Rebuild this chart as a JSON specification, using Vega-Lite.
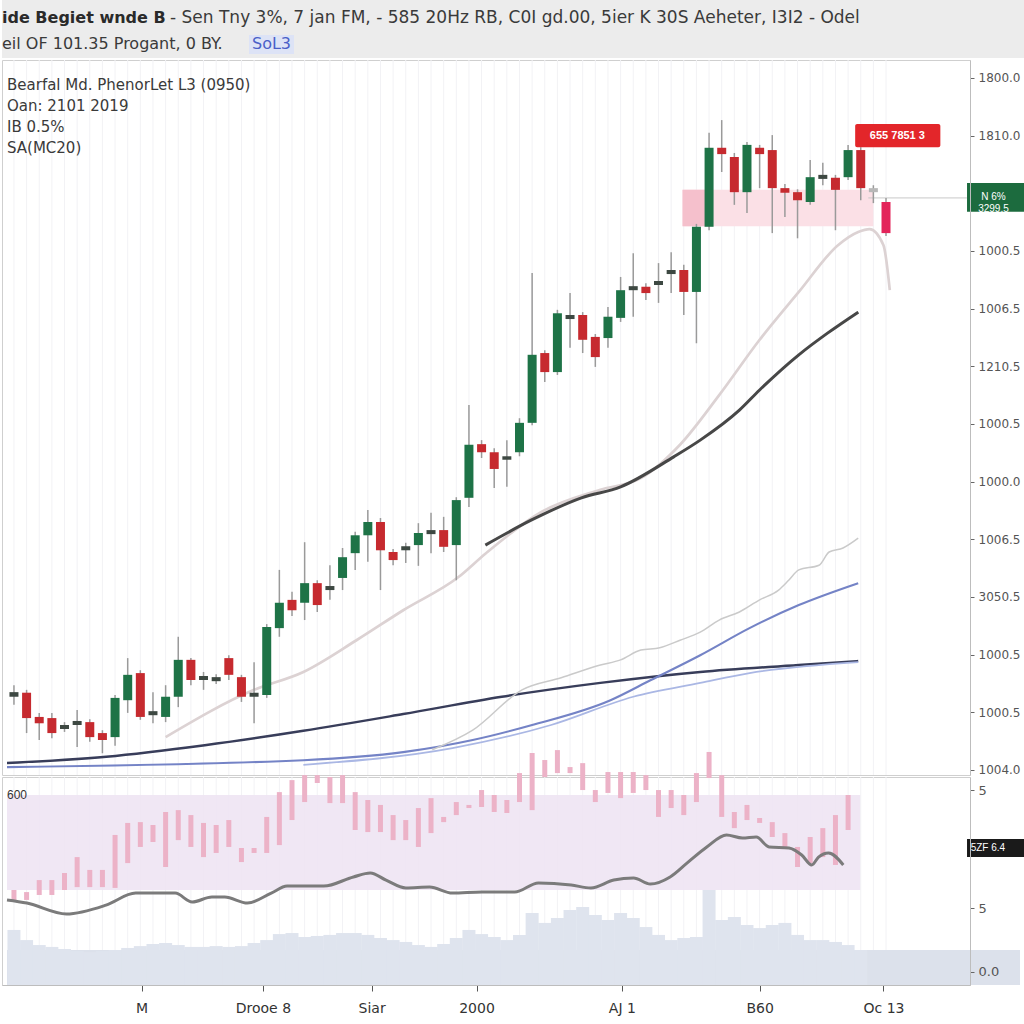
{
"$schema": "https://vega.github.io/schema/vega-lite/v6.json",
"padding": 0,
"spacing": 2,
"bounds": "flush",
"background": "white",
"config": {"font": "Liberation Sans", "view": {"stroke": null}},
"datasets": {
"bars": [
{"i":0,"o":1013.5,"h":1014.7,"l":1011.3,"c":1012.7,"k":"doji","vol":26.6,"oh":45.9,"ol":41.1},
{"i":1,"o":1013.4,"h":1013.9,"l":1006.4,"c":1009.0,"k":"down","vol":21.7,"oh":44.9,"ol":41.1},
{"i":2,"o":1009.2,"h":1009.9,"l":1005.2,"c":1008.1,"k":"down","vol":19.3,"oh":50.7,"ol":43.5},
{"i":3,"o":1009.0,"h":1009.9,"l":1005.5,"c":1006.4,"k":"down","vol":18.4,"oh":50.7,"ol":43.5},
{"i":4,"o":1007.8,"h":1008.3,"l":1006.6,"c":1007.1,"k":"doji","vol":17.4,"oh":54.1,"ol":45.9},
{"i":5,"o":1008.5,"h":1010.4,"l":1004.0,"c":1007.8,"k":"doji","vol":16.4,"oh":61.8,"ol":47.3},
{"i":6,"o":1008.3,"h":1008.8,"l":1004.9,"c":1005.7,"k":"down","vol":15.9,"oh":55.6,"ol":47.3},
{"i":7,"o":1006.4,"h":1006.9,"l":1002.9,"c":1005.2,"k":"down","vol":16.4,"oh":55.6,"ol":47.3},
{"i":8,"o":1005.7,"h":1013.0,"l":1004.2,"c":1012.5,"k":"up","vol":16.9,"oh":72.5,"ol":46.9},
{"i":9,"o":1012.1,"h":1019.4,"l":1009.9,"c":1016.5,"k":"up","vol":17.9,"oh":78.3,"ol":58.9},
{"i":10,"o":1016.8,"h":1017.3,"l":1008.7,"c":1009.2,"k":"down","vol":18.8,"oh":78.7,"ol":66.7},
{"i":11,"o":1010.2,"h":1013.5,"l":1008.1,"c":1009.5,"k":"doji","vol":19.8,"oh":77.3,"ol":69.1},
{"i":12,"o":1009.2,"h":1014.7,"l":1008.3,"c":1012.7,"k":"up","vol":20.3,"oh":83.6,"ol":57.0},
{"i":13,"o":1012.7,"h":1023.1,"l":1010.9,"c":1019.1,"k":"up","vol":19.3,"oh":84.5,"ol":70.0},
{"i":14,"o":1019.1,"h":1019.4,"l":1014.7,"c":1015.6,"k":"down","vol":18.4,"oh":82.1,"ol":66.7},
{"i":15,"o":1016.3,"h":1017.0,"l":1013.9,"c":1015.6,"k":"doji","vol":18.4,"oh":78.3,"ol":61.8},
{"i":16,"o":1016.1,"h":1016.6,"l":1014.9,"c":1015.4,"k":"doji","vol":18.8,"oh":77.3,"ol":63.8},
{"i":17,"o":1019.4,"h":1019.9,"l":1015.6,"c":1016.5,"k":"down","vol":18.4,"oh":79.7,"ol":66.7},
{"i":18,"o":1016.1,"h":1016.5,"l":1011.8,"c":1012.7,"k":"down","vol":18.8,"oh":66.2,"ol":59.4},
{"i":19,"o":1013.4,"h":1018.7,"l":1008.1,"c":1012.7,"k":"doji","vol":20.3,"oh":66.2,"ol":63.8},
{"i":20,"o":1013.0,"h":1025.3,"l":1012.5,"c":1024.8,"k":"up","vol":21.7,"oh":81.2,"ol":63.8},
{"i":21,"o":1024.6,"h":1034.7,"l":1023.1,"c":1029.0,"k":"up","vol":24.6,"oh":93.2,"ol":67.6},
{"i":22,"o":1029.5,"h":1030.9,"l":1026.7,"c":1027.7,"k":"down","vol":25.1,"oh":99.0,"ol":79.7},
{"i":23,"o":1029.0,"h":1039.5,"l":1026.0,"c":1032.4,"k":"up","vol":23.2,"oh":101.4,"ol":88.4},
{"i":24,"o":1032.4,"h":1032.9,"l":1027.4,"c":1028.6,"k":"down","vol":23.7,"oh":101.4,"ol":97.6},
{"i":25,"o":1031.9,"h":1035.5,"l":1029.5,"c":1031.2,"k":"doji","vol":24.2,"oh":100.5,"ol":87.9},
{"i":26,"o":1033.3,"h":1038.5,"l":1031.2,"c":1036.9,"k":"up","vol":25.1,"oh":101.4,"ol":87.9},
{"i":27,"o":1037.6,"h":1041.3,"l":1034.7,"c":1040.7,"k":"up","vol":25.1,"oh":93.2,"ol":74.9},
{"i":28,"o":1040.7,"h":1045.1,"l":1036.1,"c":1043.0,"k":"up","vol":24.2,"oh":89.4,"ol":73.9},
{"i":29,"o":1043.0,"h":1043.7,"l":1031.2,"c":1038.1,"k":"down","vol":22.7,"oh":87.0,"ol":73.9},
{"i":30,"o":1037.8,"h":1038.3,"l":1035.5,"c":1036.4,"k":"down","vol":21.7,"oh":82.1,"ol":70.0},
{"i":31,"o":1038.8,"h":1039.4,"l":1035.9,"c":1038.1,"k":"doji","vol":20.8,"oh":79.7,"ol":70.0},
{"i":32,"o":1039.0,"h":1042.8,"l":1035.4,"c":1041.1,"k":"up","vol":19.3,"oh":85.5,"ol":66.7},
{"i":33,"o":1041.6,"h":1044.6,"l":1037.6,"c":1040.9,"k":"doji","vol":18.4,"oh":90.3,"ol":73.4},
{"i":34,"o":1041.6,"h":1043.9,"l":1037.8,"c":1038.7,"k":"down","vol":19.8,"oh":81.2,"ol":78.7},
{"i":35,"o":1039.0,"h":1047.3,"l":1032.9,"c":1046.8,"k":"up","vol":22.7,"oh":88.4,"ol":82.1},
{"i":36,"o":1047.2,"h":1063.3,"l":1045.6,"c":1056.4,"k":"up","vol":26.6,"oh":87.0,"ol":85.5},
{"i":37,"o":1056.5,"h":1057.2,"l":1054.1,"c":1055.1,"k":"down","vol":24.6,"oh":94.2,"ol":86.0},
{"i":38,"o":1055.1,"h":1055.8,"l":1048.9,"c":1052.2,"k":"down","vol":23.2,"oh":91.8,"ol":83.6},
{"i":39,"o":1054.4,"h":1057.2,"l":1049.1,"c":1053.8,"k":"doji","vol":21.7,"oh":89.4,"ol":83.1},
{"i":40,"o":1055.1,"h":1061.0,"l":1054.4,"c":1060.2,"k":"up","vol":24.2,"oh":102.4,"ol":88.4},
{"i":41,"o":1060.2,"h":1086.2,"l":1059.8,"c":1072.0,"k":"up","vol":34.8,"oh":112.1,"ol":84.5},
{"i":42,"o":1072.3,"h":1072.8,"l":1067.3,"c":1069.0,"k":"down","vol":30.0,"oh":108.7,"ol":100.5},
{"i":43,"o":1069.0,"h":1079.8,"l":1068.5,"c":1079.2,"k":"up","vol":32.4,"oh":113.5,"ol":102.4},
{"i":44,"o":1078.9,"h":1082.7,"l":1073.2,"c":1078.2,"k":"doji","vol":36.2,"oh":105.3,"ol":102.4},
{"i":45,"o":1078.9,"h":1079.4,"l":1072.3,"c":1074.6,"k":"down","vol":37.7,"oh":107.2,"ol":94.2},
{"i":46,"o":1075.1,"h":1075.6,"l":1069.9,"c":1071.6,"k":"down","vol":33.8,"oh":94.2,"ol":88.4},
{"i":47,"o":1074.9,"h":1080.3,"l":1073.2,"c":1078.6,"k":"up","vol":31.4,"oh":102.9,"ol":92.8},
{"i":48,"o":1078.4,"h":1085.5,"l":1077.7,"c":1083.2,"k":"up","vol":34.8,"oh":102.9,"ol":90.3},
{"i":49,"o":1083.9,"h":1089.6,"l":1078.6,"c":1083.2,"k":"doji","vol":32.4,"oh":102.9,"ol":92.8},
{"i":50,"o":1083.8,"h":1084.4,"l":1081.5,"c":1082.7,"k":"down","vol":28.0,"oh":101.4,"ol":94.2},
{"i":51,"o":1084.8,"h":1087.9,"l":1081.0,"c":1084.1,"k":"doji","vol":24.2,"oh":94.2,"ol":81.2},
{"i":52,"o":1086.7,"h":1089.8,"l":1082.7,"c":1086.0,"k":"doji","vol":21.7,"oh":94.2,"ol":85.5},
{"i":53,"o":1086.7,"h":1087.6,"l":1078.9,"c":1082.9,"k":"down","vol":22.7,"oh":91.8,"ol":82.1},
{"i":54,"o":1082.9,"h":1094.7,"l":1074.0,"c":1094.2,"k":"up","vol":23.2,"oh":102.4,"ol":88.4},
{"i":55,"o":1094.2,"h":1110.5,"l":1093.6,"c":1107.9,"k":"up","vol":45.9,"oh":112.6,"ol":100.0},
{"i":56,"o":1107.9,"h":1112.7,"l":1103.7,"c":1106.8,"k":"down","vol":31.4,"oh":101.4,"ol":81.2},
{"i":57,"o":1106.3,"h":1107.0,"l":1098.0,"c":1100.2,"k":"down","vol":32.9,"oh":83.6,"ol":75.8},
{"i":58,"o":1100.2,"h":1108.9,"l":1096.6,"c":1108.4,"k":"up","vol":29.0,"oh":87.0,"ol":79.7},
{"i":59,"o":1107.9,"h":1108.4,"l":1100.9,"c":1106.8,"k":"down","vol":27.5,"oh":80.7,"ol":78.3},
{"i":60,"o":1107.5,"h":1110.1,"l":1093.1,"c":1100.9,"k":"down","vol":29.0,"oh":78.7,"ol":71.5},
{"i":61,"o":1100.9,"h":1101.6,"l":1095.9,"c":1100.1,"k":"down","vol":30.0,"oh":73.4,"ol":66.7},
{"i":62,"o":1100.2,"h":1100.7,"l":1092.2,"c":1098.8,"k":"down","vol":24.2,"oh":66.7,"ol":57.0},
{"i":63,"o":1098.5,"h":1105.8,"l":1098.0,"c":1102.8,"k":"up","vol":21.7,"oh":71.5,"ol":58.9},
{"i":64,"o":1103.2,"h":1105.3,"l":1101.4,"c":1102.5,"k":"doji","vol":21.7,"oh":75.8,"ol":61.8},
{"i":65,"o":1102.7,"h":1103.2,"l":1093.6,"c":1100.6,"k":"down","vol":20.8,"oh":82.1,"ol":58.0},
{"i":66,"o":1102.8,"h":1108.4,"l":1102.3,"c":1107.5,"k":"up","vol":19.3,"oh":91.8,"ol":74.9},
{"i":67,"o":1107.5,"h":1108.0,"l":1098.8,"c":1100.9,"k":"down","vol":16.9},
{"i":68,"o":1100.9,"h":1101.4,"l":1098.3,"c":1100.2,"k":"prov"},
{"i":69,"o":1098.5,"h":1099.2,"l":1092.6,"c":1093.1,"k":"live"}
],
"ma": [
{"s":"C","i":-0.55,"v":1001.2},{"s":"C","i":7.3,"v":1002.3},{"s":"C","i":15.1,"v":1004.3},{"s":"C","i":22.9,"v":1006.8},{"s":"C","i":30.8,"v":1009.7},{"s":"C","i":38.6,"v":1012.7},{"s":"C","i":46.4,"v":1015.1},{"s":"C","i":54.3,"v":1017.0},{"s":"C","i":62.1,"v":1018.2},{"s":"C","i":66.8,"v":1018.9},
{"s":"D","i":-0.55,"v":1000.5},{"s":"D","i":22.9,"v":1001.7},{"s":"D","i":30.8,"v":1003.1},{"s":"D","i":36.3,"v":1005.2},{"s":"D","i":41.0,"v":1007.8},{"s":"D","i":47.2,"v":1012.1},{"s":"D","i":50.4,"v":1015.6},{"s":"D","i":54.3,"v":1019.9},{"s":"D","i":58.2,"v":1024.6},{"s":"D","i":62.1,"v":1028.6},{"s":"D","i":66.8,"v":1032.4},
{"s":"E","i":22.9,"v":1000.9},{"s":"E","i":34.7,"v":1003.8},{"s":"E","i":42.5,"v":1007.8},{"s":"E","i":49.0,"v":1012.7},{"s":"E","i":54.3,"v":1015.1},{"s":"E","i":58.2,"v":1016.8},{"s":"E","i":66.8,"v":1018.7},
{"s":"F","i":33.1,"v":1003.5},{"s":"F","i":36.3,"v":1006.9},{"s":"F","i":40.2,"v":1013.9},{"s":"F","i":43.3,"v":1016.0},{"s":"F","i":46.4,"v":1018.2},{"s":"F","i":48.0,"v":1019.1},{"s":"F","i":49.6,"v":1020.8},{"s":"F","i":51.1,"v":1021.2},{"s":"F","i":52.7,"v":1022.5},{"s":"F","i":54.3,"v":1023.9},{"s":"F","i":55.8,"v":1026.0},{"s":"F","i":57.4,"v":1027.4},{"s":"F","i":59.0,"v":1029.5},{"s":"F","i":60.5,"v":1031.2},{"s":"F","i":61.3,"v":1032.9},{"s":"F","i":62.1,"v":1034.7},{"s":"F","i":63.7,"v":1035.5},{"s":"F","i":64.5,"v":1037.8},{"s":"F","i":65.6,"v":1038.5},{"s":"F","i":66.8,"v":1040.2},
{"s":"B","i":12.0,"v":1005.7},{"s":"B","i":19.0,"v":1013.9},{"s":"B","i":22.9,"v":1017.0},{"s":"B","i":27.1,"v":1022.5},{"s":"B","i":30.8,"v":1027.7},{"s":"B","i":35.2,"v":1033.5},{"s":"B","i":37.3,"v":1037.5},{"s":"B","i":41.7,"v":1044.7},{"s":"B","i":46.4,"v":1048.6},{"s":"B","i":49.6,"v":1050.6},{"s":"B","i":52.7,"v":1056.4},{"s":"B","i":55.8,"v":1065.0},{"s":"B","i":59.0,"v":1074.6},{"s":"B","i":62.1,"v":1082.9},{"s":"B","i":65.2,"v":1091.0},{"s":"B","i":66.8,"v":1093.3},{"s":"B","i":67.7,"v":1093.8},{"s":"B","i":68.8,"v":1091.0},{"s":"B","i":69.3,"v":1083.2},
{"s":"A","i":37.3,"v":1039.0},{"s":"A","i":41.0,"v":1043.4},{"s":"A","i":44.9,"v":1047.2},{"s":"A","i":48.0,"v":1049.1},{"s":"A","i":52.2,"v":1054.3},{"s":"A","i":54.3,"v":1057.2},{"s":"A","i":57.4,"v":1062.4},{"s":"A","i":59.0,"v":1065.9},{"s":"A","i":62.1,"v":1072.0},{"s":"A","i":64.4,"v":1075.8},{"s":"A","i":66.8,"v":1079.4}
],
"osc": [
{"i":-0.55,"u":41.1},{"i":1.02,"u":39.6},{"i":4.15,"u":34.3},{"i":7.28,"u":38.6},{"i":9.63,"u":44.4},{"i":12.76,"u":44.4},{"i":14.1,"u":40.1},{"i":15.66,"u":42.5},{"i":16.68,"u":42.5},{"i":18.48,"u":39.6},{"i":20.36,"u":44.4},{"i":21.61,"u":47.8},{"i":24.51,"u":47.8},{"i":26.86,"u":52.2},{"i":28.19,"u":54.1},{"i":29.44,"u":50.7},{"i":31.01,"u":46.9},{"i":32.89,"u":47.3},{"i":34.69,"u":44.4},{"i":37.04,"u":44.9},{"i":39.62,"u":44.9},{"i":41.5,"u":49.3},{"i":44.09,"u":48.3},{"i":45.65,"u":46.9},{"i":47.46,"u":50.7},{"i":49.02,"u":51.7},{"i":50.35,"u":48.8},{"i":51.92,"u":52.2},{"i":53.25,"u":58.9},{"i":54.82,"u":66.7},{"i":56.38,"u":72.5},{"i":57.64,"u":71.0},{"i":58.73,"u":71.5},{"i":59.75,"u":66.7},{"i":61.32,"u":66.2},{"i":62.33,"u":62.8},{"i":63.12,"u":58.0},{"i":63.66,"u":61.8},{"i":64.45,"u":63.8},{"i":65.62,"u":58.0}
]
},
"vconcat": [
{
"width": 1024, "height": 58,
"view": {"fill": "#ececec", "stroke": null},
"data": {"values": [{}]},
"layer": [
{"mark": {"type": "text", "align": "left", "baseline": "middle", "font": "DejaVu Sans", "fontSize": 16, "fontWeight": "bold", "color": "#2a2a2a"}, "encoding": {"x": {"value": 0}, "y": {"value": 18}, "text": {"value": "ide Begiet wnde B"}}},
{"mark": {"type": "text", "align": "left", "baseline": "middle", "font": "DejaVu Sans", "fontSize": 17, "color": "#3a3a3a"}, "encoding": {"x": {"value": 168}, "y": {"value": 18}, "text": {"value": "- Sen Tny 3%,  7 jan FM, - 585 20Hz RB, C0I gd.00, 5ier K 30S Aeheter, I3I2 - Odel"}}},
{"mark": {"type": "text", "align": "left", "baseline": "middle", "font": "DejaVu Sans", "fontSize": 16, "color": "#3a3a3a"}, "encoding": {"x": {"value": 0}, "y": {"value": 44}, "text": {"value": "eil OF 101.35 Progant, 0 BY."}}},
{"mark": {"type": "rect", "color": "#dde3f6"}, "encoding": {"x": {"value": 247}, "x2": {"value": 292}, "y": {"value": 35}, "y2": {"value": 54}}},
{"mark": {"type": "text", "align": "left", "baseline": "middle", "font": "DejaVu Sans", "fontSize": 16, "color": "#4a5fc8"}, "encoding": {"x": {"value": 250}, "y": {"value": 44}, "text": {"value": "SoL3"}}}
]
},
{
"width": 968, "height": 715,
"view": {"stroke": "#cfcfcf"},
"layer": [
{"data": {"name": "bars"}, "mark": {"type": "rule", "color": "#f2f2f5", "strokeWidth": 1},
 "encoding": {"x": {"field": "i", "type": "quantitative", "scale": {"domain": [-0.55, 75.25], "nice": false, "zero": false}, "axis": null}}},
{"data": {"values": [{}]}, "mark": {"type": "rect", "color": "#fbe0e6"},
 "encoding": {"x": {"datum": 52.9}, "x2": {"datum": 68.0}, "y": {"datum": 1094.3}, "y2": {"datum": 1100.6}}},
{"data": {"values": [{}]}, "mark": {"type": "rect", "color": "#f5c0cc"},
 "encoding": {"x": {"datum": 52.9}, "x2": {"datum": 54.9}, "y": {"datum": 1094.3}, "y2": {"datum": 1100.6}}},
{"data": {"values": [{}]}, "mark": {"type": "rule", "color": "#c8c8c8", "strokeWidth": 1},
 "encoding": {"x": {"datum": 67.6}, "x2": {"datum": 75.4}, "y": {"datum": 1099.2}}},
{"data": {"name": "ma"}, "mark": {"type": "line", "interpolate": "monotone"},
 "encoding": {"x": {"field": "i", "type": "quantitative"}, "y": {"field": "v", "type": "quantitative"},
  "stroke": {"field": "s", "type": "nominal", "scale": {"domain": ["A","B","C","D","E","F"], "range": ["#474747","#dcd2d3","#383d5a","#7483c6","#aab7e4","#cacaca"]}, "legend": null},
  "strokeWidth": {"field": "s", "type": "nominal", "scale": {"domain": ["A","B","C","D","E","F"], "range": [3, 1.5, 3.5, 1.5, 1.5, 2]}, "legend": null}}},
{"data": {"name": "bars"}, "mark": {"type": "rule", "color": "#9a9a9a", "strokeWidth": 1.5},
 "encoding": {"x": {"field": "i", "type": "quantitative"},
  "y": {"field": "l", "type": "quantitative", "scale": {"domain": [999.13, 1123.12], "nice": false, "zero": false},
   "axis": {"orient": "right", "title": null, "grid": false, "values": [1000,1010,1020,1030,1040,1050,1060,1070,1080,1090,1110,1120],
    "labelExpr": "['1004.0','1000.5','1000.5','3050.5','1006.5','1000.0','1000.5','1210.5','1006.5','1000.5','','1810.0','1800.0'][round((datum.value-1000)/10)]",
    "labelFont": "DejaVu Sans", "labelFontSize": 12, "labelColor": "#555555", "tickColor": "#666666", "tickSize": 4, "labelPadding": 4, "domainColor": "#bdbdbd", "zindex": 1}},
  "y2": {"field": "h"}}},
{"data": {"name": "bars"}, "mark": {"type": "bar", "width": 9},
 "encoding": {"x": {"field": "i", "type": "quantitative"}, "y": {"field": "o", "type": "quantitative"}, "y2": {"field": "c"},
  "fill": {"field": "k", "type": "nominal", "scale": {"domain": ["up","down","doji","prov","live"], "range": ["#1e7347","#c62a2f","#3d4842","#b8b8b8","#e3245a"]}, "legend": null}}},
{"data": {"values": [{}]}, "mark": {"type": "rect", "color": "#e3262a", "cornerRadius": 2},
 "encoding": {"x": {"datum": 66.56}, "x2": {"datum": 73.3}, "y": {"datum": 1108.0}, "y2": {"datum": 1112.0}}},
{"data": {"values": [{}]}, "mark": {"type": "text", "color": "white", "fontSize": 11, "fontWeight": "bold", "baseline": "middle"},
 "encoding": {"x": {"datum": 69.9}, "y": {"datum": 1110.0}, "text": {"value": "655 7851 3"}}},
{"data": {"values": [{}]}, "mark": {"type": "rect", "color": "#1c6b3e"},
 "encoding": {"x": {"datum": 75.41}, "x2": {"datum": 80.0}, "y": {"datum": 1096.8}, "y2": {"datum": 1101.8}}},
{"data": {"values": [{}]}, "mark": {"type": "text", "color": "white", "fontSize": 10, "baseline": "middle", "lineHeight": 12},
 "encoding": {"x": {"datum": 77.5}, "y": {"datum": 1099.3}, "text": {"value": ["N 6%", "3299.5"]}}},
{"data": {"values": [{}]}, "mark": {"type": "text", "align": "left", "baseline": "middle", "font": "DejaVu Sans", "fontSize": 15, "color": "#3a3a3a", "lineHeight": 21},
 "encoding": {"x": {"value": 5}, "y": {"value": 25}, "text": {"value": ["Bearfal Md. PhenorLet L3 (0950)", "Oan: 2101 2019", "IB 0.5%", "SA(MC20)"]}}}
]
},
{
"width": 968, "height": 208,
"view": {"stroke": "#cfcfcf"},
"layer": [
{"data": {"name": "bars"}, "mark": {"type": "rule", "color": "#f2f2f5", "strokeWidth": 1},
 "encoding": {"x": {"field": "i", "type": "quantitative", "scale": {"domain": [-0.55, 75.25], "nice": false, "zero": false},
  "axis": {"orient": "bottom", "title": null, "grid": false, "values": [10.1, 19.7, 28.3, 36.6, 48.1, 59.0, 68.8],
   "labelExpr": "datum.value < 12 ? 'M' : datum.value < 22 ? 'Drooe 8' : datum.value < 30 ? 'Siar' : datum.value < 40 ? '2000' : datum.value < 50 ? 'AJ 1' : datum.value < 62 ? 'B60' : 'Oc 13'",
   "labelFont": "DejaVu Sans", "labelFontSize": 14, "labelColor": "#333333", "tickColor": "#555555", "tickSize": 6, "labelPadding": 10, "domainColor": "#bdbdbd", "zindex": 1}}}},
{"data": {"values": [{}]}, "mark": {"type": "rect", "color": "#dce1eb"},
 "encoding": {"x": {"datum": -0.55}, "x2": {"datum": 79.6}, "y": {"datum": 0}, "y2": {"datum": 16.9}}},
{"data": {"name": "bars"}, "mark": {"type": "bar", "width": 13, "color": "#dfe4ee"},
 "encoding": {"x": {"field": "i", "type": "quantitative"}, "y": {"field": "vol", "type": "quantitative"}, "y2": {"datum": 0}}},
{"data": {"values": [{}]}, "mark": {"type": "rect", "color": "#eee4f3", "opacity": 0.9},
 "encoding": {"x": {"datum": -0.55}, "x2": {"datum": 66.95}, "y": {"datum": 45.9}, "y2": {"datum": 91.8}}},
{"data": {"name": "bars"}, "mark": {"type": "bar", "width": 5, "color": "#ecb2c7", "clip": false},
 "encoding": {"x": {"field": "i", "type": "quantitative"},
  "y": {"field": "oh", "type": "quantitative", "scale": {"domain": [0, 100.5], "nice": false, "zero": false},
   "axis": {"orient": "right", "title": null, "grid": false, "values": [6.3, 37.2, 94.2],
    "labelExpr": "datum.value < 10 ? '0.0' : '5'", "labelFont": "DejaVu Sans", "labelFontSize": 13, "labelColor": "#555555", "tickColor": "#666666", "tickSize": 4, "labelPadding": 4, "domainColor": "#bdbdbd", "zindex": 1}},
  "y2": {"field": "ol"}}},
{"data": {"name": "osc"}, "mark": {"type": "line", "interpolate": "monotone", "color": "#7b7b7b", "strokeWidth": 3},
 "encoding": {"x": {"field": "i", "type": "quantitative"}, "y": {"field": "u", "type": "quantitative"}}},
{"data": {"values": [{}]}, "mark": {"type": "rect", "color": "#1a1a1a"},
 "encoding": {"x": {"datum": 75.41}, "x2": {"datum": 80.0}, "y": {"datum": 61.8}, "y2": {"datum": 70.5}}},
{"data": {"values": [{}]}, "mark": {"type": "text", "color": "white", "fontSize": 10, "align": "left", "baseline": "middle"},
 "encoding": {"x": {"datum": 75.7}, "y": {"datum": 66.2}, "text": {"value": "5ZF 6.4"}}},
{"data": {"values": [{}]}, "mark": {"type": "text", "color": "#333333", "fontSize": 12, "align": "left", "baseline": "middle"},
 "encoding": {"x": {"datum": -0.55}, "y": {"datum": 92}, "text": {"value": "600"}}}
]
}
]
}
